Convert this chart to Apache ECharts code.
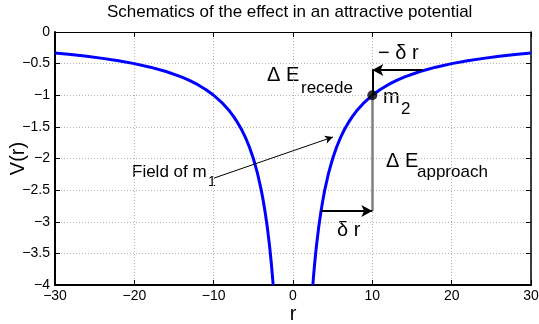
<!DOCTYPE html>
<html><head><meta charset="utf-8">
<script src="https://cdn.jsdelivr.net/npm/echarts@6/dist/echarts.min.js"></script>
<style>html,body{margin:0;padding:0;background:#fff}#c{width:539px;height:324px}</style>
</head><body><div id="c"></div>
<script>
// Data
const rRight = [2.5, 2.6, 2.75, 2.9, 3, 3.25, 3.5, 3.75, 4, 4.5, 5, 5.5, 6, 6.5, 7, 7.5, 8, 9, 10, 11, 12, 13, 14, 16, 18, 20, 22, 24, 26, 28, 30];
const vRight = [-4, -3.846, -3.636, -3.448, -3.333, -3.077, -2.857, -2.667, -2.5, -2.222, -2, -1.818, -1.667, -1.538, -1.429, -1.333, -1.25, -1.111, -1, -0.909, -0.833, -0.769, -0.714, -0.625, -0.556, -0.5, -0.455, -0.417, -0.385, -0.357, -0.333];
const rLeft = [-30, -28, -26, -24, -22, -20, -18, -16, -14, -13, -12, -11, -10, -9, -8, -7.5, -7, -6.5, -6, -5.5, -5, -4.5, -4, -3.75, -3.5, -3.25, -3, -2.9, -2.75, -2.6, -2.5];
const vLeft = [-0.333, -0.357, -0.385, -0.417, -0.455, -0.5, -0.556, -0.625, -0.714, -0.769, -0.833, -0.909, -1, -1.111, -1.25, -1.333, -1.429, -1.538, -1.667, -1.818, -2, -2.222, -2.5, -2.667, -2.857, -3.077, -3.333, -3.448, -3.636, -3.846, -4];
const xTickValues = [-30, -20, -10, 0, 10, 20, 30];
const xTickLabels = ['\u221230', '\u221220', '\u221210', '0', '10', '20', '30'];
const yTickValues = [0, -0.5, -1, -1.5, -2, -2.5, -3, -3.5, -4];
const yTickLabels = ['0', '\u22120.5', '\u22121', '\u22121.5', '\u22122', '\u22122.5', '\u22123', '\u22123.5', '\u22124'];
// annotation points (data coords)
const particle = [10, -1];
const approachStart = [3.54, -2.83];
const approachEnd = [10, -2.83];
const recedeStart = [16.3, -0.6];
const recedeEnd = [10, -0.6];
const fieldStart = [-9.96, -2.31];
const fieldEnd = [5.04, -1.66];

const FONT = '"Liberation Sans", Arial, Helvetica, sans-serif';
function lab(vals, labs) { return v => { const i = vals.findIndex(t => Math.abs(t - v) < 1e-9); return i >= 0 ? labs[i] : ''; }; }

const chart = echarts.init(document.getElementById('c'), null, {renderer: 'canvas'});
const axisLine = {show: true, onZero: false, lineStyle: {color: '#000', width: 2}};
const tick = {show: true, inside: true, length: 5, lineStyle: {color: '#000', width: 1}};
const grid = {show: true, lineStyle: {color: '#b4b4b4', width: 1, type: [1, 2]}};
function pairs(xs, ys) { return xs.map((x, i) => [x, ys[i]]); }
function txt(text, x, y, size) {
  return {type: 'text', x: x, y: y, style: {text: text, fill: '#000', font: size + 'px ' + FONT, verticalAlign: 'middle', align: 'left'}};
}
chart.setOption({
  animation: false,
  title: {text: 'Schematics of the effect in an attractive potential', left: 107, top: 4, padding: 0,
    textStyle: {fontSize: 17, fontWeight: 'normal', color: '#000', fontFamily: FONT}},
  grid: {left: 55, right: 8, top: 32, bottom: 39, containLabel: false, outerBoundsMode: 'none'},
  xAxis: [
    {type: 'value', min: -30, max: 30, interval: 10, position: 'bottom', axisLine, axisTick: tick, splitLine: grid,
      axisLabel: {formatter: lab(xTickValues, xTickLabels), color: '#000', fontSize: 14, fontFamily: FONT, margin: 4},
      name: 'r', nameLocation: 'middle', nameGap: 19, nameMoveOverlap: false, nameTextStyle: {fontSize: 20, color: '#000', fontFamily: FONT}},
    {type: 'value', min: -30, max: 30, interval: 10, position: 'top', axisLine: {show: true, onZero: false, lineStyle: {color: '#000', width: 1}}, axisTick: tick,
      splitLine: {show: false}, axisLabel: {show: false}}
  ],
  yAxis: [
    {type: 'value', min: -4, max: 0, interval: 0.5, position: 'left', axisLine, axisTick: tick, splitLine: grid,
      axisLabel: {formatter: lab(yTickValues, yTickLabels), color: '#000', fontSize: 14, fontFamily: FONT, margin: 5},
      name: 'V(r)', nameLocation: 'middle', nameGap: 27, nameRotate: 90, nameMoveOverlap: false, nameTextStyle: {fontSize: 20, color: '#000', fontFamily: FONT}},
    {type: 'value', min: -4, max: 0, interval: 0.5, position: 'right', axisLine: {show: true, onZero: false, lineStyle: {color: '#000', width: 1.5}}, axisTick: tick,
      splitLine: {show: false}, axisLabel: {show: false}}
  ],
  series: [
    {type: 'line', data: pairs(rLeft, vLeft), smooth: false, showSymbol: false, symbol: 'none',
      lineStyle: {color: '#0000ff', width: 3}, clip: true},
    {type: 'line', data: pairs(rRight, vRight), smooth: false, showSymbol: false, symbol: 'none',
      lineStyle: {color: '#0000ff', width: 3}, clip: true},
    {type: 'scatter', data: [particle], symbol: 'circle', symbolSize: 10, itemStyle: {color: '#000'}, z: 5,
      markLine: {silent: true, animation: false, label: {show: false}, emphasis: {disabled: true},
        data: [
          [{coord: approachEnd, symbol: 'none', lineStyle: {color: '#808080', width: 2.5, type: 'solid'}}, {coord: particle, symbol: 'none'}],
          [{coord: particle, symbol: 'none', lineStyle: {color: '#000', width: 2, type: 'solid'}}, {coord: recedeEnd, symbol: 'none'}],
          [{coord: approachStart, symbol: 'none', lineStyle: {color: '#000', width: 2, type: 'solid'}}, {coord: approachEnd, symbol: 'arrow', symbolSize: [9, 11]}],
          [{coord: recedeStart, symbol: 'none', lineStyle: {color: '#000', width: 2, type: 'solid'}}, {coord: recedeEnd, symbol: 'arrow', symbolSize: [9, 11]}],
          [{coord: fieldStart, symbol: 'none', lineStyle: {color: '#000', width: 1, type: 'solid'}}, {coord: fieldEnd, symbol: 'arrow', symbolSize: [6, 8]}]
        ]}}
  ],
  graphic: [
    txt('\u0394 E', 267, 75, 20), txt('recede', 301, 88, 17),
    txt('m', 383, 97, 20), txt('2', 401, 109, 17),
    txt('\u2212 \u03b4 r', 378, 53, 20),
    txt('\u0394 E', 386, 161, 20), txt('approach', 417, 172, 17),
    txt('\u03b4 r', 337, 230, 20),
    txt('Field of m', 132, 172, 17), txt('1', 208, 182, 14)
  ]
});
</script></body></html>
